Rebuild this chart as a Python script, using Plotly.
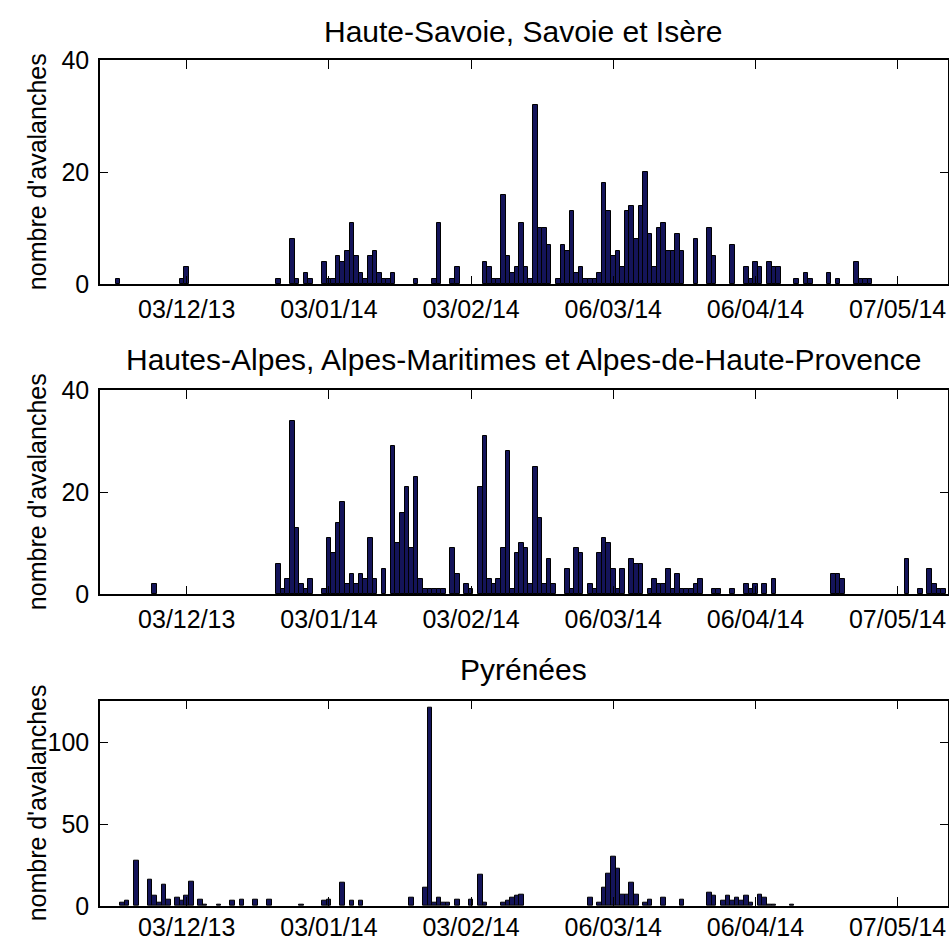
import plotly.graph_objects as go

# ---------------- data (daily avalanche counts, non-zero days) ----------------
titles = ["Haute-Savoie, Savoie et Isère",
          "Hautes-Alpes, Alpes-Maritimes et Alpes-de-Haute-Provence",
          "Pyrénées"]
ylabel = "nombre d'avalanches"

tick_dates = ["2013-12-03", "2014-01-03", "2014-02-03", "2014-03-06", "2014-04-06", "2014-05-07"]
tick_labels = ["03/12/13", "03/01/14", "03/02/14", "06/03/14", "06/04/14", "07/05/14"]

dates_savoie = ["2013-11-18", "2013-12-02", "2013-12-03", "2013-12-23", "2013-12-26", "2013-12-27",
                "2013-12-29", "2013-12-30", "2014-01-02", "2014-01-03", "2014-01-04", "2014-01-05",
                "2014-01-06", "2014-01-07", "2014-01-08", "2014-01-09", "2014-01-10", "2014-01-11",
                "2014-01-12", "2014-01-13", "2014-01-14", "2014-01-15", "2014-01-16", "2014-01-17",
                "2014-01-22", "2014-01-26", "2014-01-27", "2014-01-30", "2014-01-31", "2014-02-06",
                "2014-02-07", "2014-02-08", "2014-02-09", "2014-02-10", "2014-02-11", "2014-02-12",
                "2014-02-13", "2014-02-14", "2014-02-15", "2014-02-16", "2014-02-17", "2014-02-18",
                "2014-02-19", "2014-02-20", "2014-02-22", "2014-02-23", "2014-02-24", "2014-02-25",
                "2014-02-26", "2014-02-27", "2014-02-28", "2014-03-01", "2014-03-02", "2014-03-03",
                "2014-03-04", "2014-03-05", "2014-03-06", "2014-03-07", "2014-03-08", "2014-03-09",
                "2014-03-10", "2014-03-11", "2014-03-12", "2014-03-13", "2014-03-14", "2014-03-15",
                "2014-03-16", "2014-03-17", "2014-03-18", "2014-03-19", "2014-03-20", "2014-03-21",
                "2014-03-24", "2014-03-27", "2014-03-28", "2014-04-01", "2014-04-04", "2014-04-05",
                "2014-04-06", "2014-04-07", "2014-04-09", "2014-04-10", "2014-04-11", "2014-04-15",
                "2014-04-17", "2014-04-18", "2014-04-22", "2014-04-24", "2014-04-28", "2014-04-29",
                "2014-04-30", "2014-05-01"]
counts_savoie = [1, 1, 3, 1, 8, 1,
                 2, 1, 4, 1, 1, 5,
                 4, 6, 11, 5, 2, 1,
                 5, 6, 2, 1, 1, 2,
                 1, 1, 11, 1, 3, 4,
                 3, 1, 1, 16, 5, 2,
                 3, 11, 3, 1, 32, 10,
                 10, 7, 1, 7, 6, 13,
                 2, 3, 1, 1, 1, 2,
                 18, 13, 5, 6, 3, 13,
                 14, 8, 14, 20, 9, 3,
                 10, 11, 6, 6, 9, 6,
                 8, 10, 5, 7, 3, 1,
                 4, 3, 4, 3, 3, 1,
                 2, 1, 2, 1, 4, 1,
                 1, 1]

dates_alpes = ["2013-11-26", "2013-12-23", "2013-12-24", "2013-12-25", "2013-12-26", "2013-12-27",
               "2013-12-28", "2013-12-29", "2013-12-30", "2014-01-02", "2014-01-03", "2014-01-04",
               "2014-01-05", "2014-01-06", "2014-01-07", "2014-01-08", "2014-01-09", "2014-01-10",
               "2014-01-11", "2014-01-12", "2014-01-13", "2014-01-15", "2014-01-17", "2014-01-18",
               "2014-01-19", "2014-01-20", "2014-01-21", "2014-01-22", "2014-01-23", "2014-01-24",
               "2014-01-25", "2014-01-26", "2014-01-27", "2014-01-28", "2014-01-30", "2014-01-31",
               "2014-02-02", "2014-02-03", "2014-02-05", "2014-02-06", "2014-02-07", "2014-02-08",
               "2014-02-09", "2014-02-10", "2014-02-11", "2014-02-12", "2014-02-13", "2014-02-14",
               "2014-02-15", "2014-02-16", "2014-02-17", "2014-02-18", "2014-02-19", "2014-02-20",
               "2014-02-21", "2014-02-24", "2014-02-25", "2014-02-26", "2014-02-27", "2014-03-01",
               "2014-03-02", "2014-03-03", "2014-03-04", "2014-03-05", "2014-03-06", "2014-03-07",
               "2014-03-08", "2014-03-10", "2014-03-11", "2014-03-12", "2014-03-14", "2014-03-15",
               "2014-03-16", "2014-03-17", "2014-03-18", "2014-03-19", "2014-03-20", "2014-03-21",
               "2014-03-22", "2014-03-23", "2014-03-24", "2014-03-25", "2014-03-28", "2014-03-29",
               "2014-04-01", "2014-04-04", "2014-04-05", "2014-04-06", "2014-04-08", "2014-04-10",
               "2014-04-23", "2014-04-24", "2014-04-25", "2014-05-09", "2014-05-12", "2014-05-14",
               "2014-05-15", "2014-05-16", "2014-05-17"]
counts_alpes = [2, 6, 1, 3, 34, 13,
                2, 1, 3, 1, 11, 8,
                14, 18, 2, 4, 2, 4,
                3, 11, 3, 5, 29, 10,
                16, 21, 9, 23, 3, 1,
                1, 1, 1, 1, 9, 4,
                2, 1, 21, 31, 3, 2,
                3, 9, 28, 1, 8, 10,
                9, 2, 25, 15, 2, 7,
                2, 5, 1, 9, 8, 2,
                1, 8, 11, 10, 5, 1,
                5, 7, 6, 6, 1, 3,
                2, 2, 5, 1, 4, 1,
                1, 1, 2, 3, 1, 1,
                1, 2, 1, 2, 2, 3,
                4, 4, 3, 7, 1, 5,
                2, 1, 1]

dates_pyr = ["2013-11-19", "2013-11-20", "2013-11-22", "2013-11-25", "2013-11-26", "2013-11-27",
             "2013-11-28", "2013-11-29", "2013-12-01", "2013-12-02", "2013-12-03", "2013-12-04",
             "2013-12-06", "2013-12-07", "2013-12-10", "2013-12-13", "2013-12-15", "2013-12-18",
             "2013-12-21", "2013-12-28", "2014-01-02", "2014-01-03", "2014-01-06", "2014-01-08",
             "2014-01-10", "2014-01-21", "2014-01-24", "2014-01-25", "2014-01-26", "2014-01-27",
             "2014-01-28", "2014-01-29", "2014-01-31", "2014-02-03", "2014-02-05", "2014-02-06",
             "2014-02-10", "2014-02-11", "2014-02-12", "2014-02-13", "2014-02-14", "2014-03-01",
             "2014-03-03", "2014-03-04", "2014-03-05", "2014-03-06", "2014-03-07", "2014-03-08",
             "2014-03-09", "2014-03-10", "2014-03-11", "2014-03-13", "2014-03-14", "2014-03-17",
             "2014-03-21", "2014-03-27", "2014-03-28", "2014-03-30", "2014-03-31", "2014-04-01",
             "2014-04-02", "2014-04-03", "2014-04-04", "2014-04-05", "2014-04-07", "2014-04-08",
             "2014-04-09", "2014-04-10", "2014-04-14"]
counts_pyr = [2, 3, 28, 16, 6, 2,
              13, 4, 5, 3, 6, 15,
              4, 1, 1, 3, 4, 4,
              4, 1, 3, 4, 14, 3,
              3, 5, 11, 121, 2, 5,
              2, 2, 4, 4, 19, 2,
              2, 3, 5, 6, 7, 5,
              2, 11, 20, 30, 23, 7,
              7, 14, 7, 2, 4, 5,
              4, 8, 6, 3, 6, 3,
              5, 3, 6, 2, 7, 5,
              1, 1, 1]

y_ranges = [[0, 40], [0, 40], [0, 125.5]]
y_ticks = [[0, 20, 40], [0, 20, 40], [0, 50, 100]]
x_range = ["2013-11-14 02:00", "2014-05-17 21:00"]

# ---------------- layout geometry (pixels) ----------------
W, H = 949, 940
x_left, x_right = 100, 947.5
panels_px = [(60, 284.3), (390, 594.3), (700.7, 906)]   # (top, bottom) in px
title_y_px = [31, 359, 669]
x_label_standoff = [2, 2, -2]

FONT = "Liberation Sans, Arial, Helvetica, sans-serif"
BAR_FILL = "#14145a"

series = [(dates_savoie, counts_savoie), (dates_alpes, counts_alpes), (dates_pyr, counts_pyr)]

fig = go.Figure()
layout = dict(width=W, height=H, margin=dict(l=0, r=0, t=0, b=0, autoexpand=False),
              autosize=False, template="none",
              paper_bgcolor="white", plot_bgcolor="white", showlegend=False,
              bargap=0, font=dict(family=FONT, color="black"))
annotations = []

for i, ((d, c), (ptop, pbot)) in enumerate(zip(series, panels_px)):
    sfx = "" if i == 0 else str(i + 1)
    fig.add_trace(go.Bar(x=d, y=c, width=86400000, xaxis="x" + sfx, yaxis="y" + sfx,
                         marker=dict(color=BAR_FILL, line=dict(color="black", width=1)),
                         hoverinfo="x+y"))
    ydom = [1 - pbot / H, 1 - ptop / H]
    layout["xaxis" + sfx] = dict(
        type="date", range=x_range, domain=[x_left / W, x_right / W], anchor="y" + sfx,
        tickmode="array", tickvals=tick_dates, ticktext=tick_labels, automargin=False,
        ticks="inside", ticklen=9, tickwidth=1, tickcolor="black",
        showline=True, linecolor="black", linewidth=1.5, mirror="ticks",
        showgrid=False, zeroline=False, ticklabelstandoff=x_label_standoff[i],
        tickfont=dict(size=25, family=FONT, color="black"))
    layout["yaxis" + sfx] = dict(
        range=y_ranges[i], domain=ydom, anchor="x" + sfx, automargin=False,
        tickmode="array", tickvals=y_ticks[i],
        ticks="inside", ticklen=8, tickwidth=1, tickcolor="black",
        showline=True, linecolor="black", linewidth=1.5, mirror="ticks",
        showgrid=False, zeroline=False, ticklabelstandoff=4,
        tickfont=dict(size=25, family=FONT, color="black"))
    annotations.append(dict(text=titles[i], xref="paper", yref="paper",
                            x=(x_left + x_right) / 2 / W, y=1 - title_y_px[i] / H,
                            xanchor="center", yanchor="middle", showarrow=False,
                            font=dict(size=30, family=FONT, color="black")))
    annotations.append(dict(text=ylabel, xref="paper", yref="paper",
                            x=37 / W, y=1 - (ptop + pbot) / 2 / H, textangle=-90,
                            xanchor="center", yanchor="middle", showarrow=False,
                            font=dict(size=25, family=FONT, color="black")))

layout["annotations"] = annotations
fig.update_layout(**layout)

# pin the figure to the page's top-left corner (no default body margin)
pin_js = ("document.documentElement.style.margin='0';document.body.style.margin='0';"
          "document.body.style.padding='0';document.body.style.overflow='hidden';"
          "document.documentElement.style.overflow='hidden';"
          "var gd=document.getElementById('{plot_id}');"
          "gd.style.position='absolute';gd.style.left='0px';gd.style.top='0px';")
fig.write_html("out.html", post_script=pin_js, config={"displayModeBar": False})
